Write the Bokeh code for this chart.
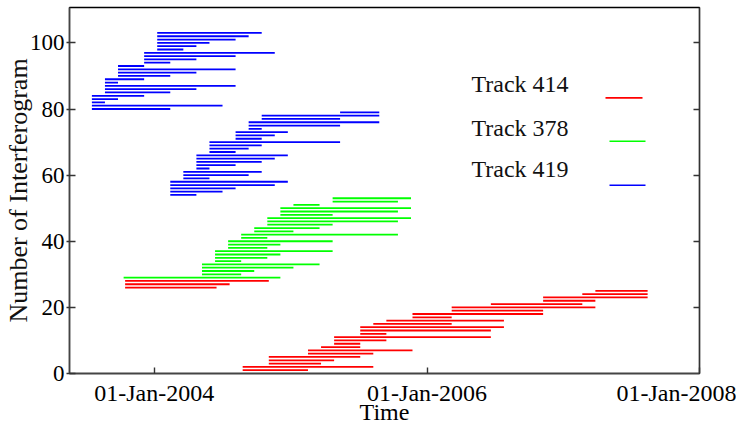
import pandas as pd
from bokeh.plotting import figure
from bokeh.models import (ColumnDataSource, FixedTicker, DatetimeTickFormatter, LinearAxis,
                          Label, BoxAnnotation, CustomJSTickFormatter, Range1d)
from bokeh.embed import file_html
from bokeh.resources import INLINE

# ---------------- data ----------------
# Track 414 (red), interferograms 1..28
t414_num = [1, 2, 3, 4, 5, 6, 7, 8, 9, 10, 11, 12, 13, 14, 15, 16, 17, 18, 19, 20,
            21, 22, 23, 24, 25, 26, 27, 28]
t414_start = ["2004-08-25", "2004-08-25", "2004-11-03", "2004-11-03", "2004-11-03",
              "2005-02-16", "2005-02-16", "2005-03-23", "2005-04-27", "2005-04-27",
              "2005-04-27", "2005-07-06", "2005-07-06", "2005-07-06", "2005-08-10",
              "2005-09-14", "2005-11-23", "2005-11-23", "2006-03-08", "2006-03-08",
              "2006-06-21", "2006-11-08", "2006-11-08", "2007-02-21", "2007-03-28",
              "2003-10-15", "2003-10-15", "2003-10-15"]
t414_end = ["2005-02-16", "2005-08-10", "2005-03-23", "2005-04-27", "2005-07-06",
            "2005-08-10", "2005-11-23", "2005-07-06", "2005-07-06", "2005-09-14",
            "2006-06-21", "2005-09-14", "2006-06-21", "2006-07-26", "2006-03-08",
            "2006-07-26", "2006-03-08", "2006-11-08", "2006-11-08", "2007-03-28",
            "2007-02-21", "2007-03-28", "2007-08-15", "2007-08-15", "2007-08-15",
            "2004-06-16", "2004-07-21", "2004-11-03"]

# Track 378 (green), interferograms 29..53
t378_num = [29, 30, 31, 32, 33, 34, 35, 36, 37, 38, 39, 40, 41, 42, 43, 44, 45, 46,
            47, 48, 49, 50, 51, 52, 53]
t378_start = ["2003-10-11", "2004-05-08", "2004-05-08", "2004-05-08", "2004-05-08",
              "2004-06-12", "2004-06-12", "2004-06-12", "2004-06-12", "2004-07-17",
              "2004-07-17", "2004-07-17", "2004-08-21", "2004-08-21", "2004-09-25",
              "2004-09-25", "2004-10-30", "2004-10-30", "2004-10-30", "2004-12-04",
              "2004-12-04", "2004-12-04", "2005-01-08", "2005-04-23", "2005-04-23"]
t378_end = ["2004-12-04", "2004-08-21", "2004-09-25", "2005-01-08", "2005-03-19",
            "2004-08-21", "2004-10-30", "2004-12-04", "2005-04-23", "2004-10-30",
            "2004-12-04", "2005-04-23", "2004-10-30", "2005-10-15", "2005-01-08",
            "2005-03-19", "2005-04-23", "2005-10-15", "2005-11-19", "2005-04-23",
            "2005-10-15", "2005-11-19", "2005-03-19", "2005-10-15", "2005-11-19"]

# Track 419 (blue), interferograms 54..103
t419_num = [54, 55, 56, 57, 58, 59, 60, 61, 62, 63, 64, 65, 66, 67, 68, 69, 70, 71,
            72, 73, 74, 75, 76, 77, 78, 79, 80, 81, 82, 83, 84, 85, 86, 87, 88, 89,
            90, 91, 92, 93, 94, 95, 96, 97, 98, 99, 100, 101, 102, 103]
t419_start = ["2004-02-13", "2004-02-13", "2004-02-13", "2004-02-13", "2004-02-13",
              "2004-03-19", "2004-03-19", "2004-03-19", "2004-04-23", "2004-04-23",
              "2004-04-23", "2004-04-23", "2004-04-23", "2004-05-28", "2004-05-28",
              "2004-05-28", "2004-05-28", "2004-08-06", "2004-08-06", "2004-08-06",
              "2004-09-10", "2004-09-10", "2004-09-10", "2004-10-15", "2004-10-15",
              "2005-05-13", "2003-07-18", "2003-07-18", "2003-07-18", "2003-07-18",
              "2003-07-18", "2003-08-22", "2003-08-22", "2003-08-22", "2003-08-22",
              "2003-08-22", "2003-09-26", "2003-09-26", "2003-09-26", "2003-09-26",
              "2003-12-05", "2003-12-05", "2003-12-05", "2003-12-05", "2004-01-09",
              "2004-01-09", "2004-01-09", "2004-01-09", "2004-01-09", "2004-01-09"]
t419_end = ["2004-04-23", "2004-07-02", "2004-08-06", "2004-11-19", "2004-12-24",
            "2004-05-28", "2004-09-10", "2004-10-15", "2004-05-28", "2004-08-06",
            "2004-10-15", "2004-11-19", "2004-12-24", "2004-08-06", "2004-09-10",
            "2004-10-15", "2005-05-13", "2004-10-15", "2004-11-19", "2004-12-24",
            "2004-10-15", "2005-05-13", "2005-08-26", "2005-05-13", "2005-08-26",
            "2005-08-26", "2004-02-13", "2004-07-02", "2003-08-22", "2003-09-26",
            "2003-12-05", "2004-02-13", "2004-04-23", "2004-08-06", "2003-09-26",
            "2003-12-05", "2004-02-13", "2004-04-23", "2004-08-06", "2003-12-05",
            "2004-02-13", "2004-04-23", "2004-08-06", "2004-11-19", "2004-03-19",
            "2004-04-23", "2004-05-28", "2004-08-06", "2004-09-10", "2004-10-15"]

track_names = ["Track 414", "Track 378", "Track 419"]
track_colors = ["#ff0000", "#00ff00", "#0000ff"]
x_ticks = ["2004-01-01", "2006-01-01", "2008-01-01"]
y_ticks = [0, 20, 40, 60, 80, 100]
x_limits = ["2003-05-19", "2008-01-01"]
y_limits = [0, 110.7]

FONT = "Liberation Serif"

p = figure(width=736, height=427, x_axis_type="datetime",
           x_range=Range1d(pd.Timestamp(x_limits[0]), pd.Timestamp(x_limits[1])),
           y_range=Range1d(y_limits[0], y_limits[1]),
           output_backend="svg", toolbar_location=None,
           min_border_left=67, min_border_right=37, min_border_top=7, min_border_bottom=54)
p.xgrid.visible = False
p.ygrid.visible = False
p.outline_line_color = "black"
p.outline_line_width = 1.3
p.background_fill_color = "white"
p.border_fill_color = "white"

tracks = [(t414_num, t414_start, t414_end), (t378_num, t378_start, t378_end),
          (t419_num, t419_start, t419_end)]
for (num, st, en), col in zip(tracks, track_colors):
    src = ColumnDataSource(dict(x0=pd.to_datetime(st), x1=pd.to_datetime(en), y=num))
    p.segment(x0="x0", y0="y", x1="x1", y1="y", source=src, line_color=col, line_width=1.8)

# x axis
xa = p.xaxis[0]
xa.ticker = FixedTicker(ticks=[pd.Timestamp(t).value / 1e6 for t in x_ticks])
fmt = "%d-%b-%Y"
xa.formatter = DatetimeTickFormatter(microseconds=fmt, milliseconds=fmt, seconds=fmt,
                                     minsec=fmt, minutes=fmt, hourmin=fmt, hours=fmt,
                                     days=fmt, months=fmt, years=fmt)
xa.major_tick_in = 6
xa.major_tick_out = 0
xa.minor_tick_line_color = None
xa.major_label_standoff = 6
xa.major_label_text_font = FONT
xa.major_label_text_font_size = "24px"
xa.major_label_text_color = "black"
xa.axis_line_color = "#444444"
xa.axis_line_width = 1.6
xa.major_tick_line_color = "#333333"
xa.major_tick_line_width = 1.4
xa.axis_label = "Time"
xa.axis_label_text_font = FONT
xa.axis_label_text_font_size = "24px"
xa.axis_label_text_font_style = "normal"
xa.axis_label_text_color = "black"
xa.axis_label_standoff = -10

# y axis
ya = p.yaxis[0]
ya.ticker = FixedTicker(ticks=y_ticks)
ya.major_tick_in = 6
ya.major_tick_out = 3
ya.minor_tick_line_color = None
ya.major_label_standoff = 2
ya.major_label_text_font = FONT
ya.major_label_text_font_size = "23px"
ya.major_label_text_color = "black"
ya.axis_line_color = "#444444"
ya.axis_line_width = 1.6
ya.major_tick_line_color = "#333333"
ya.major_tick_line_width = 1.4
ya.axis_label = "Number of Interferogram"
ya.axis_label_text_font = FONT
ya.axis_label_text_font_size = "26px"
ya.axis_label_text_font_style = "normal"
ya.axis_label_text_color = "#111111"
ya.axis_label_standoff = -6

# right axis: ticks only
ra = LinearAxis(ticker=FixedTicker(ticks=y_ticks[1:]),
                formatter=CustomJSTickFormatter(code="return ''"))
ra.major_tick_in = 6
ra.major_tick_out = 0
ra.minor_tick_line_color = None
ra.axis_line_color = "#333333"
ra.axis_line_width = 1.4
ra.major_tick_line_color = "#333333"
ra.major_tick_line_width = 1.4
p.add_layout(ra, "right")

# legend (text left, sample line right), frame-relative screen coordinates
leg_text_y = [290, 246, 205]
leg_line_y = [275.6, 232.3, 188.3]
leg_line_x = [(536, 573), (540, 576), (540, 576)]
for name, col, ty, ly, (lx0, lx1) in zip(track_names, track_colors, leg_text_y, leg_line_y, leg_line_x):
    p.add_layout(Label(x=402, y=ty, x_units="screen", y_units="screen", text=name,
                       text_font=FONT, text_font_size="24px", text_align="left",
                       text_baseline="alphabetic", text_color="#111111"))
    p.add_layout(BoxAnnotation(left=lx0, right=lx1, bottom=ly - 0.8, top=ly + 0.8,
                               left_units="screen", right_units="screen",
                               bottom_units="screen", top_units="screen",
                               fill_color=col, fill_alpha=1.0, line_color=None))

open("out.html", "w").write(file_html(p, INLINE))
